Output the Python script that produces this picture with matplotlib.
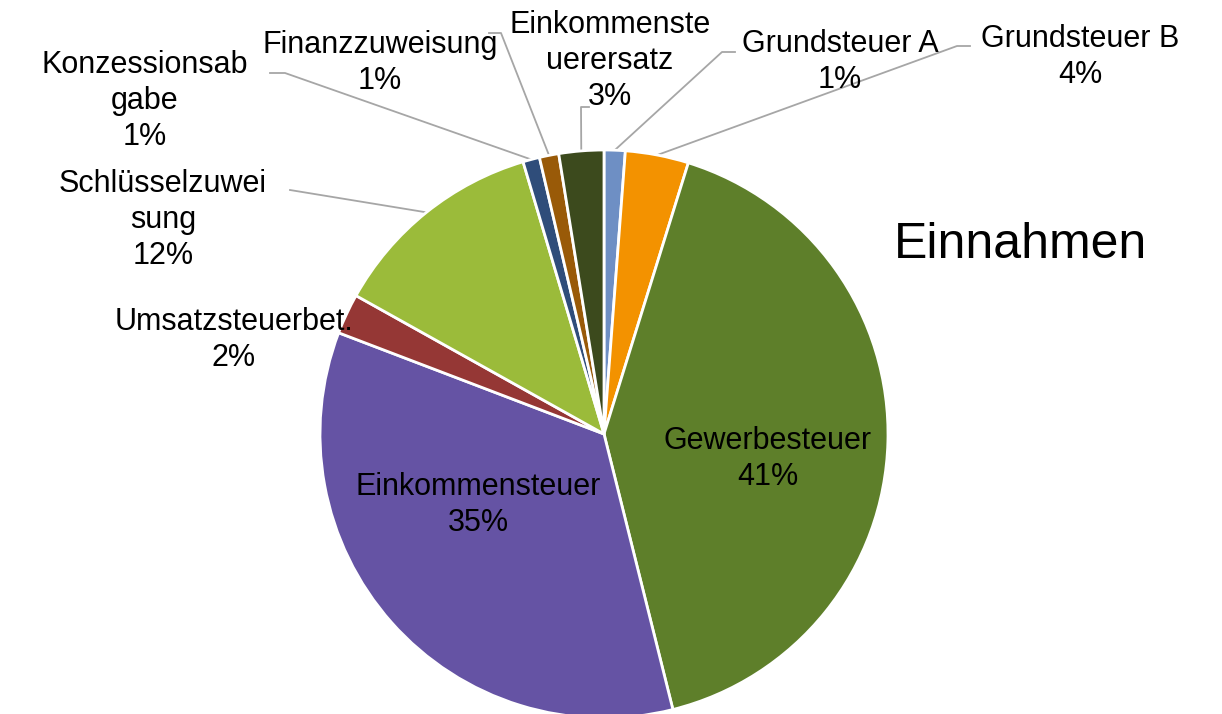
import numpy as np
import matplotlib.pyplot as plt

# --- data ---
labels = ["Grundsteuer A", "Grundsteuer B", "Gewerbesteuer", "Einkommensteuer",
          "Umsatzsteuerbet.", "Schlüsselzuweisung", "Konzessionsabgabe",
          "Finanzzuweisung", "Einkommensteuerersatz"]
shares = [1.2, 3.6, 41.3, 34.7, 2.3, 12.3, 0.95, 1.1, 2.55]
# wrapped label text as it appears in the chart
label_text = ["Grundsteuer A", "Grundsteuer B", "Gewerbesteuer", "Einkommensteuer",
              "Umsatzsteuerbet.", "Schlüsselzuwei\nsung", "Konzessionsab\ngabe",
              "Finanzzuweisung", "Einkommenste\nuerersatz"]
colors = ["#6E8FC4", "#F39200", "#5E7F2A", "#6553A4", "#953735",
          "#9BBB3A", "#2F4D7A", "#995A08", "#3C4A1D"]

W, H = 1222, 714
plt.rcParams['font.family'] = ['Liberation Sans', 'DejaVu Sans']

fig = plt.figure(figsize=(W / 100, H / 100), dpi=100)
ax = fig.add_axes([0, 0, 1, 1])

cx, cy, r = 604, H - 434, 284
ax.pie(shares, colors=colors, startangle=90, counterclock=False,
       center=(cx, cy), radius=r, frame=True,
       wedgeprops=dict(edgecolor='white', linewidth=2.0))
ax.set_xlim(0, W)
ax.set_ylim(0, H)
ax.set_aspect('equal')
ax.axis('off')

total = sum(shares)
pct = [f"{v / total * 100:.0f}%" for v in shares]

# label placement (image coords, y down): text centre, leader points towards the pie
layout = {
    "Grundsteuer A": dict(xy=(840, 62), elbow=[(735, 52), (722, 52)]),
    "Grundsteuer B": dict(xy=(1080, 57), elbow=[(970, 46), (957, 46)]),
    "Einkommensteuerersatz": dict(xy=(610, 61), elbow=[(589, 107), (581, 107)]),
    "Finanzzuweisung": dict(xy=(380, 63), elbow=[(489, 33), (501, 33)]),
    "Konzessionsabgabe": dict(xy=(145, 101), elbow=[(270, 73), (285, 73)]),
    "Schlüsselzuweisung": dict(xy=(163, 220), elbow=[(290, 190)]),
    "Umsatzsteuerbet.": dict(xy=(234, 340), elbow=None),
    "Gewerbesteuer": dict(xy=(768, 459), elbow=None),
    "Einkommensteuer": dict(xy=(478, 505), elbow=None),
}

cum = 0
for name, txt, v, p in zip(labels, label_text, shares, pct):
    mid = np.deg2rad(90 - 360 * (cum + v / 2) / total)
    cum += v
    spec = layout[name]
    x, y = spec["xy"]
    ax.text(x, H - y, f"{txt}\n{p}", ha='center', va='center', fontsize=22,
            color='black', linespacing=1.28)
    if spec["elbow"]:
        ex = cx + r * np.cos(mid)
        ey = cy + r * np.sin(mid)
        pts = [(px, H - py) for px, py in spec["elbow"]]
        xs = [p_[0] for p_ in pts] + [ex]
        ys = [p_[1] for p_ in pts] + [ey]
        ax.plot(xs, ys, color='#A6A6A6', linewidth=1.3, zorder=0)

ax.text(1020, H - 245, "Einnahmen", ha='center', va='center', fontsize=36, color='black')

fig.savefig("out.png", dpi=100)
